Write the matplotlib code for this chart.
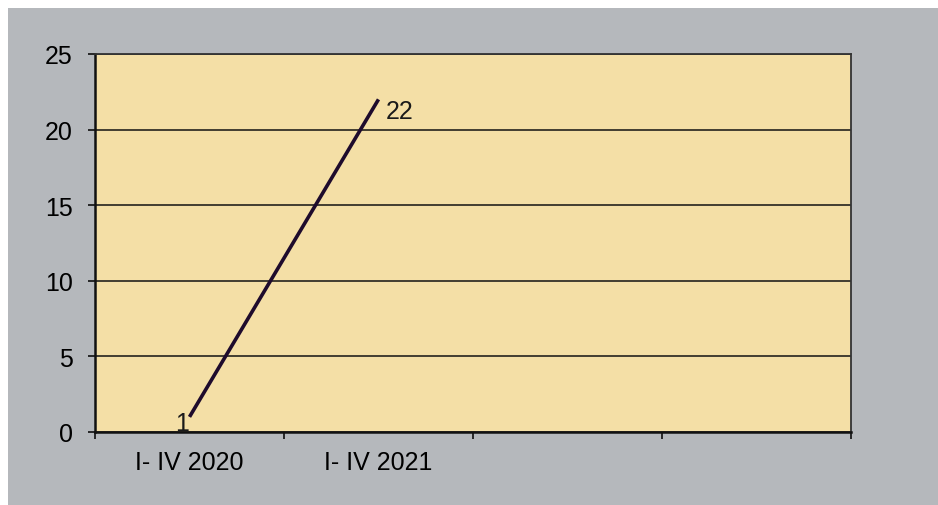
import matplotlib.pyplot as plt

# categories and values
periods = ['I- IV 2020', 'I- IV 2021', '', '']
values = [1, 22]
y_ticks = [0, 5, 10, 15, 20, 25]

plt.rcParams['font.family'] = ['Liberation Sans', 'DejaVu Sans']

fig = plt.figure(figsize=(9.38, 5.06), dpi=100)
fig.patch.set_facecolor('white')
# grey chart area with a small white margin at top and left
fig.patches.append(plt.Rectangle((8 / 938, 0), 1, (506 - 9) / 506, transform=fig.transFigure,
                                 facecolor='#b5b8bc', edgecolor='none', zorder=-5))

ax = fig.add_axes([95 / 938, 73 / 506, 756 / 938, 378 / 506])
ax.set_facecolor('#f4dfa6')

x = [i + 0.5 for i in range(len(values))]
ax.plot(x, values, color='#1e0b2c', linewidth=2.6, solid_capstyle='butt', zorder=3)

# data labels
ax.annotate(str(values[0]), (x[0], values[0]), xytext=(-7, -6), textcoords='offset pixels',
            ha='center', va='center', fontsize=18, color='#1a1a1a')
ax.annotate(str(values[1]), (x[1], values[1]), xytext=(21, -12), textcoords='offset pixels',
            ha='center', va='center', fontsize=18, color='#1a1a1a')

ax.set_xlim(0, len(periods))
ax.set_ylim(0, 25)
ax.set_yticks(y_ticks)
ax.set_yticklabels([str(v) for v in y_ticks], fontsize=18)
ax.yaxis.grid(True, color='#111111', linewidth=1.1)
ax.set_axisbelow(True)

# tick marks at category boundaries, labels at centers
ax.set_xticks(range(len(periods) + 1))
ax.set_xticklabels([])
ax.set_xticks([i + 0.5 for i in range(len(periods))], minor=True)
ax.set_xticklabels(periods, minor=True, fontsize=18)
ax.tick_params(axis='x', which='minor', length=0, pad=13)
ax.tick_params(axis='x', which='major', length=5, width=1.1, direction='out')
ax.tick_params(axis='y', length=5, width=1.1, direction='out', pad=11)

for side in ['left', 'bottom']:
    ax.spines[side].set_linewidth(1.8)
    ax.spines[side].set_color('#111111')
for side in ['top', 'right']:
    ax.spines[side].set_linewidth(1.3)
    ax.spines[side].set_color('#333333')

fig.savefig('out.png', dpi=100, facecolor=fig.get_facecolor())
